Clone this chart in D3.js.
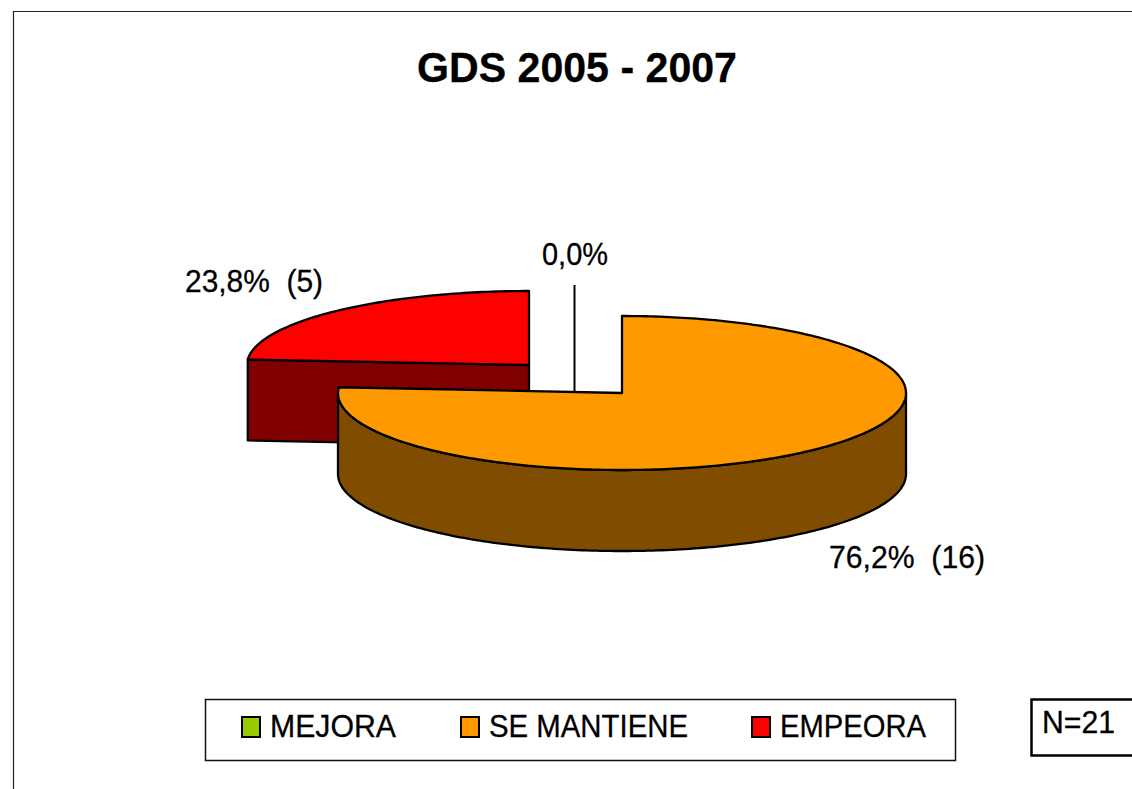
<!DOCTYPE html>
<html><head><meta charset="utf-8">
<script src="https://cdn.jsdelivr.net/npm/d3@7"></script>
<style>html,body{margin:0;padding:0;background:#fff}svg{display:block}text{font-family:"Liberation Sans",Arial,sans-serif;fill:#000;stroke:#000;stroke-width:.3px}</style>
</head><body><svg id="c" width="1132" height="789"></svg>
<script>
const title = "GDS 2005 - 2007";
const categories = ["MEJORA", "SE MANTIENE", "EMPEORA"];
const values = [0, 16, 5];
const labels = ["0,0%", "76,2%  (16)", "23,8%  (5)"];
const colors = ["#99cc00", "#ff9900", "#ff0000"];
const sideColors = ["#4d6600", "#804d00", "#800000"];
const note = "N=21";

const svg = d3.select("#c");
const W = 1132, H = 789;
const ink = "#000";

// chart frame
svg.append("path").attr("d", d3.line()([[13.5, H], [13.5, 11.5], [W, 11.5]]))
  .attr("fill", "none").attr("stroke", "#222").attr("stroke-width", 1.2);

svg.append("text").attr("x", 577).attr("y", 82).attr("text-anchor", "middle")
  .attr("font-size", 43).attr("font-weight", "bold").attr("textLength", 320).attr("lengthAdjust", "spacingAndGlyphs").text(title);

const pie = d3.pie().sort(null).value(d => d).startAngle(0).endAngle(2 * Math.PI)(values);

// one slice geometry per category (exploded centres differ)
const geom = [
  {cx: 574, cy: 392, rx: 0, ry: 0},
  {cx: 622, cy: 393, rx: 284, ry: 77},
  {cx: 529, cy: 365, rx: 282, ry: 74}
];
const depth = 81;

function project(g) {
  const x = d3.scaleLinear().domain([-1, 1]).range([g.cx - g.rx, g.cx + g.rx]);
  const y = d3.scaleLinear().domain([-1, 1]).range([g.cy - g.ry, g.cy + g.ry]);
  return a => [x(Math.sin(a)), y(-Math.cos(a))];
}
function arcPts(p, a0, a1) {
  const n = Math.max(2, Math.ceil((a1 - a0) * 60));
  return d3.range(n + 1).map(i => p(a0 + (a1 - a0) * i / n));
}
const line = d3.line();
const down = pts => pts.map(([x, y]) => [x, y + depth]);

function drawSlice(i) {
  const d = pie[i], g = geom[i], p = project(g);
  const a0 = d.startAngle, a1 = d.endAngle;
  const c = [g.cx, g.cy];
  const G = svg.append("g").attr("stroke", ink).attr("stroke-width", 2.3).attr("stroke-linejoin", "round");
  if (i === 2) {
    // wall under the slice's radial cut edge
    const q = p(a0);
    G.append("path").attr("d", line([q, c, [c[0], c[1] + depth], [q[0], q[1] + depth]]) + "Z").attr("fill", sideColors[i]);
  }
  if (i === 1) {
    // outer wall: front half of the rim
    const rim = arcPts(p, Math.max(a0, Math.PI / 2), Math.min(a1, 3 * Math.PI / 2));
    G.append("path").attr("d", line(rim.concat(down(rim).reverse())) + "Z").attr("fill", sideColors[i]);
  }
  // top face
  G.append("path").attr("d", line([c].concat(arcPts(p, a0, a1))) + "Z").attr("fill", colors[i]);
}
drawSlice(2);
// leader for the empty slice
svg.append("path").attr("d", line([[574.5, 285], [574.5, 392]])).attr("stroke", ink).attr("stroke-width", 2).attr("fill", "none");
drawSlice(1);

// data labels
const labelPos = [
  {x: 575, y: 265, len: 66},
  {x: 907, y: 568, len: 156},
  {x: 254, y: 292, len: 138}
];
svg.append("g").selectAll("text").data(labels).join("text")
  .attr("x", (d, i) => labelPos[i].x).attr("y", (d, i) => labelPos[i].y)
  .attr("text-anchor", "middle").attr("font-size", 31)
  .style("white-space", "pre")
  .attr("textLength", (d, i) => labelPos[i].len).attr("lengthAdjust", "spacingAndGlyphs")
  .text(d => d);

// legend
svg.append("rect").attr("x", 205.5).attr("y", 699.5).attr("width", 750).attr("height", 61)
  .attr("fill", "#fff").attr("stroke", "#111").attr("stroke-width", 1.5);
const legendX = d3.scaleOrdinal().domain(categories).range([241, 460, 751]);
const legendLen = d3.scaleOrdinal().domain(categories).range([126, 199, 146]);
const lg = svg.append("g").selectAll("g").data(categories).join("g")
  .attr("transform", d => `translate(${legendX(d)},0)`);
lg.append("rect").attr("x", 1).attr("y", 717).attr("width", 18).attr("height", 20)
  .attr("fill", (d, i) => colors[i]).attr("stroke", ink).attr("stroke-width", 2);
lg.append("text").attr("x", 29).attr("y", 737).attr("font-size", 31)
  .attr("textLength", d => legendLen(d)).attr("lengthAdjust", "spacingAndGlyphs").text(d => d);

// N box
svg.append("path").attr("d", line([[W, 699.5], [1031.5, 699.5], [1031.5, 755.5], [W, 755.5]]))
  .attr("fill", "#fff").attr("stroke", ink).attr("stroke-width", 2.5);
svg.append("text").attr("x", 1042).attr("y", 733).attr("font-size", 31)
  .attr("textLength", 73).attr("lengthAdjust", "spacingAndGlyphs").text(note);
</script></body></html>
